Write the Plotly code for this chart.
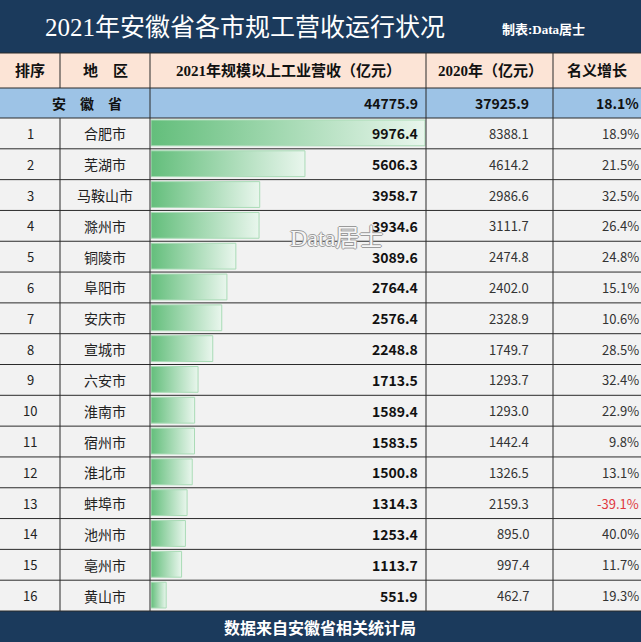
import plotly.graph_objects as go

ranks = list(range(1, 17))
cities = ['合肥市', '芜湖市', '马鞍山市', '滁州市', '铜陵市', '阜阳市', '安庆市', '宣城市',
          '六安市', '淮南市', '宿州市', '淮北市', '蚌埠市', '池州市', '亳州市', '黄山市']
rev2021 = [9976.4, 5606.3, 3958.7, 3934.6, 3089.6, 2764.4, 2576.4, 2248.8,
           1713.5, 1589.4, 1583.5, 1500.8, 1314.3, 1253.4, 1113.7, 551.9]
rev2020 = [8388.1, 4614.2, 2986.6, 3111.7, 2474.8, 2402.0, 2328.9, 1749.7,
           1293.7, 1293.0, 1442.4, 1326.5, 2159.3, 895.0, 997.4, 462.7]
growth = [18.9, 21.5, 32.5, 26.4, 24.8, 15.1, 10.6, 28.5,
          32.4, 22.9, 9.8, 13.1, -39.1, 40.0, 11.7, 19.3]

province = '安　徽　省'
prov2021 = 44775.9
prov2020 = 37925.9
prov_growth = 18.1

headers = ['排序', '地　区', '2021年规模以上工业营收（亿元）', '2020年（亿元）', '名义增长']
title = '2021年安徽省各市规工营收运行状况'
maker = '制表:Data居士'
source = '数据来自安徽省相关统计局'

W, H = 641, 642
NAVY = '#1b3a5c'
cols = [0, 60, 150, 426, 553, 641]
title_h, head_y1, prov_y1, rows_y1 = 53, 88, 118, 611
row_h = (rows_y1 - prov_y1) / len(cities)

serif = 'Liberation Serif, Noto Sans CJK SC'
sans = 'Noto Sans CJK SC'

fig = go.Figure()

# data bars (gradient fill like Excel)
for i, v in enumerate(rev2021):
    y0 = prov_y1 + i * row_h + 2
    y1 = prov_y1 + (i + 1) * row_h - 3
    fig.add_trace(go.Scatter(
        x=[0, v, v, 0, 0], y=[y0, y0, y1, y1, y0],
        xaxis='x2', yaxis='y',
        mode='lines', fill='toself',
        fillgradient=dict(type='horizontal',
                          colorscale=[[0, '#63be7b'], [1, '#e9f6ed']]),
        line=dict(color='#a9dbb6', width=1),
        hoverinfo='skip', showlegend=False))

shapes = []
def rect(x0, y0, x1, y1, color):
    shapes.append(dict(type='rect', x0=x0, x1=x1, y0=y0, y1=y1, xref='x', yref='y',
                       fillcolor=color, line=dict(width=0), layer='below'))

rect(0, 0, W, title_h, NAVY)
rect(0, title_h, W, head_y1, '#fce4d6')
rect(0, head_y1, W, prov_y1, '#9dc3e6')
rect(0, prov_y1, W, rows_y1, '#f2f2f2')
rect(0, rows_y1, W, H, NAVY)

def line(x0, y0, x1, y1):
    shapes.append(dict(type='line', x0=x0, x1=x1, y0=y0, y1=y1, xref='x', yref='y',
                       line=dict(color='#2b2b2b', width=1), layer='above'))

for k in range(len(cities) + 1):
    line(0, prov_y1 + k * row_h, W, prov_y1 + k * row_h)
line(0, head_y1, W, head_y1)
line(0, title_h, W, title_h)
for c in cols[2:5]:
    line(c, title_h, c, rows_y1)
line(cols[1], title_h, cols[1], head_y1)
line(cols[1], prov_y1, cols[1], rows_y1)

ann = []
def text(x, y, s, size, color='#111111', family=sans, anchor='center', bold=False):
    ann.append(dict(x=x, y=y, xref='x', yref='y', text='<b>%s</b>' % s if bold else s,
                    showarrow=False, xanchor=anchor, yanchor='middle',
                    font=dict(size=size, color=color, family=family)))

text(245, 27, title, 25, 'white', serif)
text(543, 29, maker, 13, 'white', serif, bold=True)

hy = (title_h + head_y1) / 2
text(30, hy, headers[0], 15, family=serif, bold=True)
text(105, hy, headers[1], 15, family=serif, bold=True)
text(288, hy, headers[2], 15, family=serif, bold=True)
text(490, hy, headers[3], 15, family=serif, bold=True)
text(597, hy, headers[4], 15, family=serif, bold=True)

RX = 640.5
py = (head_y1 + prov_y1) / 2
text(87, py, province, 14, bold=True)
text(420, py, '%.1f' % prov2021, 14, anchor='right', bold=True)
text(531, py, '%.1f' % prov2020, 14, anchor='right', bold=True)
text(RX, py, '%.1f%%' % prov_growth, 14, anchor='right', bold=True)

for i in range(len(cities)):
    y = prov_y1 + (i + 0.5) * row_h
    text(30, y, str(ranks[i]), 13, '#222222')
    text(105, y, cities[i], 14, '#222222')
    text(420, y, '%.1f' % rev2021[i], 14, '#111111', anchor='right', bold=True)
    text(531, y, '%.1f' % rev2020[i], 13, '#333333', anchor='right')
    gc = '#e0383e' if growth[i] < 0 else '#333333'
    text(RX, y, '%.1f%%' % growth[i], 13, gc, anchor='right')

text(320, (rows_y1 + H) / 2, source, 16, 'white', bold=True)

# watermark
ann.append(dict(x=336, y=238, xref='x', yref='y', text='Data居士', showarrow=False,
                font=dict(size=24, color='#f6f6f6', family=serif,
                          shadow='1px 0 0 #9a9a9a, -1px 0 0 #9a9a9a, 0 1px 0 #9a9a9a, 0 -1px 0 #9a9a9a')))

fig.update_layout(
    width=W, height=H, margin=dict(l=0, r=0, t=0, b=0),
    paper_bgcolor='white', plot_bgcolor='rgba(0,0,0,0)',
    xaxis=dict(range=[0, W], visible=False, fixedrange=True),
    xaxis2=dict(range=[0, 10050], domain=[151 / W, 427 / W], anchor='y', visible=False),
    yaxis=dict(range=[H, 0], visible=False),
    shapes=shapes, annotations=ann, showlegend=False)

fig.write_html("out.html", config={'displayModeBar': False},
               post_script="document.body.style.margin='0';")
